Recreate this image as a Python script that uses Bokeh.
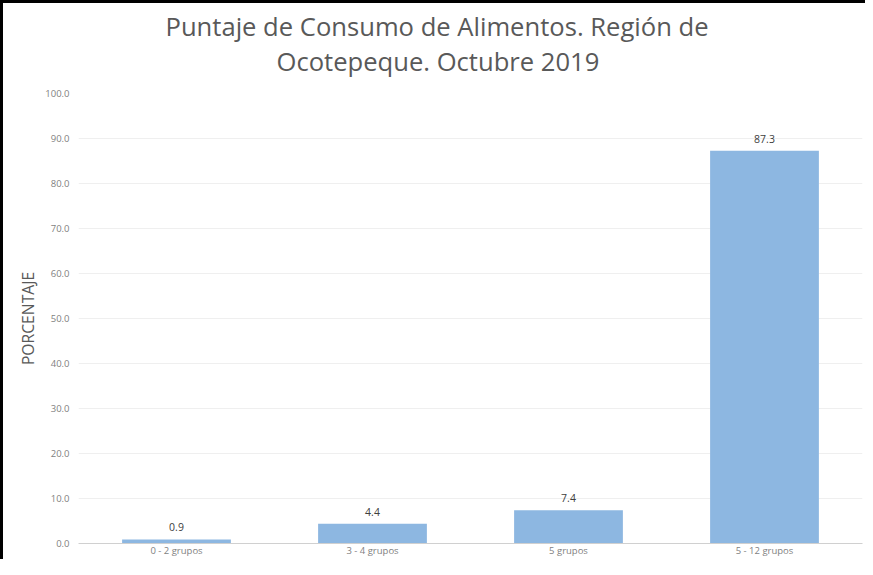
from bokeh.plotting import figure
from bokeh.models import ColumnDataSource, Title, NumeralTickFormatter, FixedTicker
from bokeh.core.properties import value
from bokeh.embed import file_html
from bokeh.resources import INLINE

categories = ["0 - 2 grupos", "3 - 4 grupos", "5 grupos", "5 - 12 grupos"]
values = [0.9, 4.4, 7.4, 87.3]
labels = ["0.9", "4.4", "7.4", "87.3"]
y_ticks = [0, 10, 20, 30, 40, 50, 60, 70, 80, 90, 100]
title_lines = ["Puntaje de Consumo de Alimentos. Región de", "Ocotepeque. Octubre 2019"]

FONT = "Open Sans"

src = ColumnDataSource(dict(cat=categories, val=values, lab=labels))

p = figure(x_range=categories, y_range=(0, 100), width=865, height=559,
           output_backend="svg", toolbar_location=None,
           min_border_left=78, min_border_right=3, min_border_top=93, min_border_bottom=16)
p.styles = {"box-shadow": "inset 3px 3px 0 0 #000000", "background-color": "#FFFFFF"}
p.border_fill_color = None
p.background_fill_color = "#FFFFFF"

# title: two lines, centred on the whole chart (not only the plotting area)
t2 = Title(text=title_lines[1], align="left", offset=198, standoff=29,
           text_font=FONT, text_font_size="25.6px", text_font_style="normal", text_color="#595959")
t1 = Title(text=title_lines[0], align="left", offset=87, standoff=-33,
           text_font=FONT, text_font_size="25.6px", text_font_style="normal", text_color="#595959")
p.add_layout(t2, "above")
p.add_layout(t1, "above")

p.vbar(x="cat", top="val", width=0.555, source=src, fill_color="#8DB7E1", line_color=None)
p.text(x="cat", y="val", text="lab", source=src, text_align="center", text_baseline="middle",
       y_offset=-12, text_font=value(FONT), text_font_size="10.5px", text_color="#404040")

p.outline_line_color = None
p.xgrid.grid_line_color = None
p.ygrid.grid_line_color = "#EFEFEF"
p.ygrid.grid_line_width = 1

p.yaxis.ticker = FixedTicker(ticks=y_ticks)
p.yaxis.formatter = NumeralTickFormatter(format="0.0")
p.yaxis.axis_line_color = None
p.yaxis.major_tick_line_color = None
p.yaxis.minor_tick_line_color = None
p.yaxis.major_tick_out = 0
p.yaxis.minor_tick_out = 0
p.yaxis.major_label_text_font = FONT
p.yaxis.major_label_text_font_size = "9.5px"
p.yaxis.major_label_text_color = "#7F7F7F"
p.yaxis.major_label_standoff = 9
p.yaxis.axis_label = "PORCENTAJE"
p.yaxis.axis_label_text_font = FONT
p.yaxis.axis_label_text_font_size = "15.7px"
p.yaxis.axis_label_text_font_style = "normal"
p.yaxis.axis_label_text_color = "#595959"
p.yaxis.axis_label_standoff = 3

p.xaxis.axis_line_color = "#D0D0D0"
p.xaxis.axis_line_width = 1
p.xaxis.major_tick_line_color = None
p.xaxis.minor_tick_line_color = None
p.xaxis.major_tick_out = 0
p.xaxis.minor_tick_out = 0
p.xaxis.major_label_text_font = FONT
p.xaxis.major_label_text_font_size = "9.5px"
p.xaxis.major_label_text_color = "#7F7F7F"
p.xaxis.major_label_standoff = 0

p.x_range.range_padding = 0

open("out.html", "w").write(file_html(p, INLINE))
